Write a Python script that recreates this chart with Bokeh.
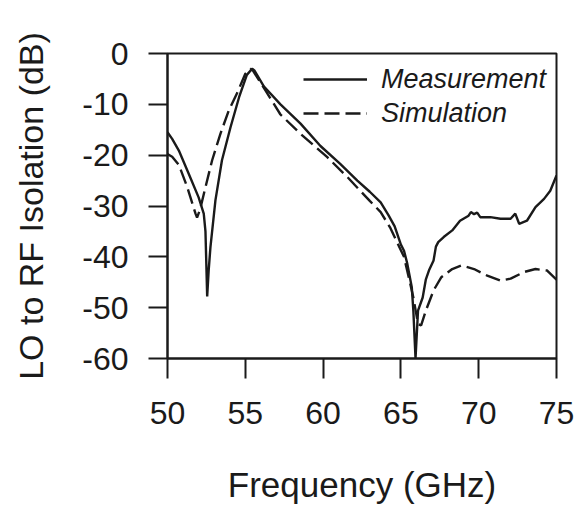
from bokeh.plotting import figure
from bokeh.models import Range1d, FixedTicker, Legend, LegendItem
from bokeh.embed import file_html
from bokeh.resources import INLINE

# ---- data ----
meas_freq = [50.0, 50.3, 50.73, 51.37, 52.0, 52.33, 52.44, 52.55, 52.65, 52.76, 53.08, 53.5,
             54.05, 54.6, 55.1, 55.44, 55.6, 56.2, 57.26, 58.55, 59.83, 61.1, 62.2, 63.0,
             63.7, 64.2, 64.6, 65.0, 65.2, 65.4, 65.7, 65.8, 65.94, 66.1, 66.4, 66.6, 66.8,
             67.1, 67.25, 67.4, 67.75, 68.3, 68.8, 69.35, 69.5, 69.7, 69.9, 70.1, 70.75,
             71.4, 72.05, 72.35, 72.6, 73.1, 73.65, 74.2, 74.6, 75.0]
meas_db = [-15.5, -16.8, -19.1, -23.7, -28.3, -31.5, -35.0, -47.8, -42.5, -38.1, -28.9, -21.0,
           -14.5, -8.6, -4.2, -3.0, -3.4, -6.5, -10.0, -13.8, -18.2, -21.7, -25.0, -27.2,
           -29.3, -31.8, -34.0, -37.6, -38.8, -41.2, -46.0, -50.6, -60.0, -50.6, -48.0, -44.5, -42.7,
           -40.7, -38.0, -37.1, -36.1, -34.8, -32.9, -31.9, -31.2, -31.6, -31.3, -32.2, -32.2,
           -32.5, -32.5, -31.5, -33.5, -32.9, -30.2, -28.6, -27.0, -24.0]

sim_freq = [50.0, 50.3, 50.73, 51.27, 51.8, 51.9, 52.1, 52.44, 52.87, 53.4, 53.94, 54.5,
            55.0, 55.33, 55.5, 56.1, 57.26, 58.55, 60.27, 61.56, 63.0, 63.7, 64.3, 65.2,
            65.6, 65.8, 66.1, 66.3, 66.6, 67.1, 67.6, 68.3, 68.9, 69.7, 70.55, 71.4,
            72.05, 72.9, 73.65, 74.4, 75.0]
sim_db = [-19.8, -20.3, -21.9, -26.3, -31.5, -32.3, -30.6, -26.3, -21.0, -15.8, -11.2, -7.6,
          -4.0, -3.0, -3.4, -6.3, -12.0, -15.8, -20.4, -24.3, -29.0, -31.2, -34.2, -40.0,
          -45.3, -48.0, -53.2, -53.5, -50.6, -46.6, -44.0, -42.4, -41.7, -42.4, -43.7, -44.7,
          -44.3, -43.0, -42.4, -42.7, -44.5]

x_ticks = [50, 55, 60, 65, 70, 75]
x_tick_labels = ["50", "55", "60", "65", "70", "75"]
y_ticks = [0, -10, -20, -30, -40, -50, -60]
y_tick_labels = ["0", "-10", "-20", "-30", "-40", "-50", "-60"]

series_labels = ["Measurement", "Simulation"]

INK = "#1a1a1a"
FONT = "Liberation Sans"

p = figure(width=579, height=507, output_backend="svg", toolbar_location=None,
           x_range=Range1d(50, 75), y_range=Range1d(-60, 0),
           min_border_left=167, min_border_top=53, min_border_right=23, min_border_bottom=149)

p.background_fill_color = "white"
p.border_fill_color = "white"
p.outline_line_color = INK
p.outline_line_width = 2
p.xgrid.visible = False
p.ygrid.visible = False

p.xaxis.ticker = FixedTicker(ticks=x_ticks)
p.yaxis.ticker = FixedTicker(ticks=y_ticks)
p.xaxis.major_label_overrides = dict(zip(x_ticks, x_tick_labels))
p.yaxis.major_label_overrides = dict(zip(y_ticks, y_tick_labels))
p.xaxis.minor_tick_line_color = None
p.yaxis.minor_tick_line_color = None

for ax in (p.xaxis, p.yaxis):
    ax.axis_line_color = INK
    ax.axis_line_width = 2
    ax.major_tick_line_color = INK
    ax.major_tick_line_width = 2
    ax.major_tick_in = 0
    ax.major_label_text_font = FONT
    ax.major_label_text_font_size = "32px"
    ax.major_label_text_color = INK
    ax.axis_label_text_font = FONT
    ax.axis_label_text_font_style = "normal"
    ax.axis_label_text_color = INK

p.xaxis.major_tick_out = 20
p.xaxis.major_label_standoff = 23
p.xaxis.axis_label = "Frequency (GHz)"
p.xaxis.axis_label_text_font_size = "35px"
p.xaxis.axis_label_standoff = 38

p.yaxis.major_tick_out = 19
p.yaxis.major_label_standoff = 20
p.yaxis.axis_label = "LO to RF Isolation (dB)"
p.yaxis.axis_label_text_font_size = "34px"
p.yaxis.axis_label_standoff = 29

r_meas = p.line(meas_freq, meas_db, line_color=INK, line_width=2.4)
r_sim = p.line(sim_freq, sim_db, line_color=INK, line_width=2.4, line_dash="15 6")

legend = Legend(items=[LegendItem(label=series_labels[0], renderers=[r_meas]),
                       LegendItem(label=series_labels[1], renderers=[r_sim])],
                location=(136, 228), padding=0, margin=0, spacing=0,
                glyph_width=64, glyph_height=34, label_height=34, label_standoff=14,
                label_text_font=FONT, label_text_font_size="27px",
                label_text_font_style="italic", label_text_color=INK,
                border_line_color=None, background_fill_alpha=0)
p.add_layout(legend, "center")

open("out.html", "w").write(file_html(p, INLINE))
